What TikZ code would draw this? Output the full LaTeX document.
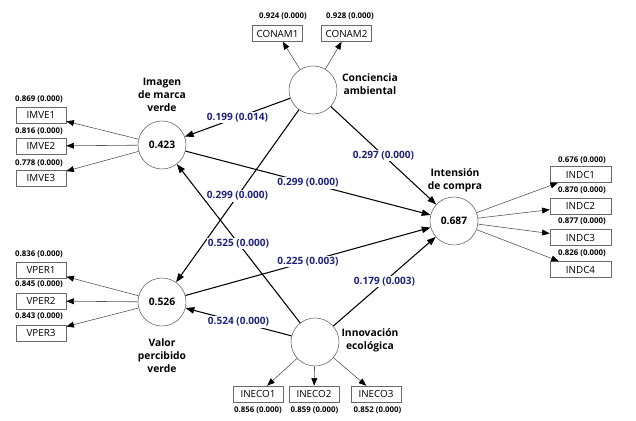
\documentclass[tikz,border=0pt]{standalone}
\usepackage{fontspec}
\setmainfont{Open Sans}
\usetikzlibrary{arrows.meta}

\definecolor{pathblue}{RGB}{32,36,118}
\definecolor{loadgray}{RGB}{85,85,85}
\definecolor{boxgray}{RGB}{105,105,105}

\tikzset{
  construct/.style={draw=boxgray, line width=0.5pt, circle, minimum size=14.4mm, inner sep=0pt, fill=white, font=\fontsize{8.8}{10}\selectfont\bfseries},
  indicator/.style={draw=boxgray, line width=0.5pt, rectangle, minimum width=15mm, minimum height=4.8mm, inner sep=0pt, fill=white, font=\fontsize{8.4}{9}\selectfont},
  loadlabel/.style={font=\fontsize{6.7}{8}\selectfont\bfseries},
  cname/.style={align=center, font=\fontsize{8.8}{11}\selectfont\bfseries},
  pathlabel/.style={midway, fill=white, inner sep=1pt, text=pathblue, font=\fontsize{8.6}{10}\selectfont\bfseries},
  loading/.style={draw=loadgray, line width=0.5pt, -{Triangle[length=6.5pt,width=5pt,color=black]}},
  structural/.style={draw=black, line width=0.9pt, -{Triangle[length=7.5pt,width=5.5pt]}}
}

\begin{document}
\begin{tikzpicture}[x=0.3mm, y=-0.3mm]
  \useasboundingbox (0,0) rectangle (636,421);

  % constructs
  \node[construct] (imv) at (162,145) {0.423};
  \node[construct] (vper) at (162,302) {0.526};
  \node[construct] (conam) at (313,90) {};
  \node[construct] (indc) at (454,221) {0.687};
  \node[construct] (ineco) at (315,342) {};

  \node[cname] (imvname) at (162,95) {Imagen\\de marca\\verde};
  \node[cname] (vpername) at (162,356) {Valor\\percibido\\verde};
  \node[cname] (conamname) at (370,84) {Conciencia\\ambiental};
  \node[cname] (indcname) at (455,180) {Intensión\\de compra};
  \node[cname] (ineconame) at (370,340) {Innovación\\ecológica};

  % imagen de marca verde
  \node[indicator] (imve1) at (41,115) {IMVE1};
  \node[indicator] (imve2) at (41,146) {IMVE2};
  \node[indicator] (imve3) at (41,178) {IMVE3};
  \node[loadlabel] (limve1) at (39,99) {0.869 (0.000)};
  \node[loadlabel] (limve2) at (39,131) {0.816 (0.000)};
  \node[loadlabel] (limve3) at (39,163) {0.778 (0.000)};

  % valor percibido verde
  \node[indicator] (vper1) at (41,270) {VPER1};
  \node[indicator] (vper2) at (41,301) {VPER2};
  \node[indicator] (vper3) at (41,333) {VPER3};
  \node[loadlabel] (lvper1) at (39,254) {0.836 (0.000)};
  \node[loadlabel] (lvper2) at (39,284) {0.845 (0.000)};
  \node[loadlabel] (lvper3) at (39,316) {0.843 (0.000)};

  % conciencia ambiental
  \node[indicator] (conam1) at (277.5,33.5) {CONAM1};
  \node[indicator] (conam2) at (346.5,33.5) {CONAM2};
  \node[loadlabel] (lconam1) at (283,16) {0.924 (0.000)};
  \node[loadlabel] (lconam2) at (350,16) {0.928 (0.000)};

  % intension de compra
  \node[indicator, minimum width=18.3mm] (indc1) at (580.5,174.5) {INDC1};
  \node[indicator, minimum width=18.3mm] (indc2) at (580.5,206) {INDC2};
  \node[indicator, minimum width=18.3mm] (indc3) at (580.5,237.5) {INDC3};
  \node[indicator, minimum width=18.3mm] (indc4) at (580.5,269.5) {INDC4};
  \node[loadlabel] (lindc1) at (582,160) {0.676 (0.000)};
  \node[loadlabel] (lindc2) at (582,190) {0.870 (0.000)};
  \node[loadlabel] (lindc3) at (582,221) {0.877 (0.000)};
  \node[loadlabel] (lindc4) at (582,253) {0.826 (0.000)};

  % innovacion ecologica
  \node[indicator] (ineco1) at (258,394) {INECO1};
  \node[indicator] (ineco2) at (314,394) {INECO2};
  \node[indicator] (ineco3) at (376,394) {INECO3};
  \node[loadlabel] (lineco1) at (258,410) {0.856 (0.000)};
  \node[loadlabel] (lineco2) at (314.5,410) {0.859 (0.000)};
  \node[loadlabel] (lineco3) at (377.5,410) {0.852 (0.000)};

  % loadings
  \draw[loading] (imv) -- (imve1);
  \draw[loading] (imv) -- (imve2);
  \draw[loading] (imv) -- (imve3);
  \draw[loading] (vper) -- (vper1);
  \draw[loading] (vper) -- (vper2);
  \draw[loading] (vper) -- (vper3);
  \draw[loading] (conam) -- (conam1);
  \draw[loading] (conam) -- (conam2);
  \draw[loading] (indc) -- (indc1);
  \draw[loading] (indc) -- (indc2);
  \draw[loading] (indc) -- (indc3);
  \draw[loading] (indc) -- (indc4);
  \draw[loading] (ineco) -- (ineco1);
  \draw[loading] (ineco) -- (ineco2);
  \draw[loading] (ineco) -- (ineco3);

  % paths
  \draw[structural] (conam) -- node[pathlabel] {0.199 (0.014)} (imv);
  \draw[structural] (conam) -- node[pathlabel] {0.297 (0.000)} (indc);
  \draw[structural] (conam) -- node[pathlabel] {0.299 (0.000)} (vper);
  \draw[structural] (imv) -- node[pathlabel] {0.299 (0.000)} (indc);
  \draw[structural] (ineco) -- node[pathlabel] {0.525 (0.000)} (imv);
  \draw[structural] (vper) -- node[pathlabel] {0.225 (0.003)} (indc);
  \draw[structural] (ineco) -- node[pathlabel] {0.179 (0.003)} (indc);
  \draw[structural] (ineco) -- node[pathlabel] {0.524 (0.000)} (vper);
\end{tikzpicture}
\end{document}
